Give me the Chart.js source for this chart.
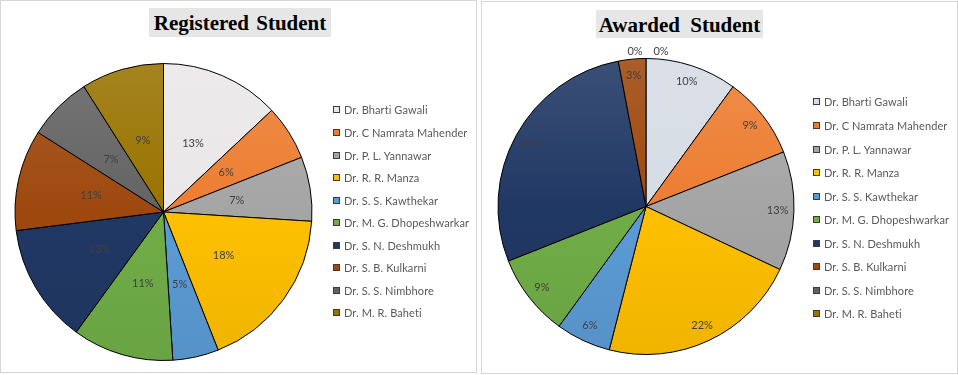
<!DOCTYPE html>
<html><head><meta charset="utf-8">
<script src="https://cdn.jsdelivr.net/npm/chart.js@4"></script>
<style>
body{margin:0;width:958px;height:375px;background:#fff;position:relative;overflow:hidden;font-family:Lato,"Open Sans",sans-serif}
.panel{position:absolute;box-sizing:border-box;border:1px solid #d6d6d6;background:#fff}
.title{position:absolute;background:#e7e6e6;font-family:"Liberation Serif","Times New Roman",serif;font-weight:bold;font-size:21px;color:#000;text-align:center;white-space:nowrap}
.legend{position:absolute;margin:0;padding:0;list-style:none;font-size:11px;letter-spacing:0.1px;color:#595959}
.legend li{display:flex;align-items:center;white-space:nowrap}
.legend i{display:inline-block;box-sizing:border-box;width:7px;height:7px;border:1px solid #3a3a3a;margin-right:4px}
canvas{position:absolute}
</style>
</head><body>
<div class="panel" style="left:0;top:0;width:477px;height:373px"></div>
<div class="panel" style="left:481px;top:1px;width:477px;height:373px"></div>
<canvas id="c1" width="477" height="373" style="left:0;top:0"></canvas>
<canvas id="c2" width="477" height="372" style="left:481px;top:2px"></canvas>
<div class="title" id="t1" style="left:149px;top:8px;width:182px;height:29px;line-height:30px;word-spacing:2px"></div>
<div class="title" id="t2" style="left:596px;top:10px;width:167px;height:28px;line-height:30px;word-spacing:5px"></div>
<ul class="legend" id="l1" style="left:333px;top:98.7px"></ul>
<ul class="legend" id="l2" style="left:813px;top:90.2px"></ul>
<script>
const titles = ["Registered Student", "Awarded Student"];
const categories = [
  "Dr. Bharti Gawali", "Dr. C Namrata Mahender", "Dr. P. L. Yannawar", "Dr. R. R. Manza",
  "Dr. S. S. Kawthekar", "Dr. M. G. Dhopeshwarkar", "Dr. S. N. Deshmukh", "Dr. S. B. Kulkarni",
  "Dr. S. S. Nimbhore", "Dr. M. R. Baheti"
];
const registeredValues = [13, 6, 7, 18, 5, 11, 13, 11, 7, 9];
const awardedValues = [10, 9, 13, 22, 6, 9, 28, 3, 0, 0];
const registeredColors = ["#e9e7e7","#ed7d31","#a5a5a5","#ffc000","#5b9bd5","#70ad47","#203864","#9e480e","#636363","#997300"];
const awardedColors = ["#d6dce5","#ed7d31","#a5a5a5","#ffc000","#5b9bd5","#70ad47","#203864","#9e480e","#636363","#997300"];

function mix(hex, amt){
  const n = parseInt(hex.slice(1),16);
  let r=(n>>16)&255, g=(n>>8)&255, b=n&255;
  const t = amt>0?255:0, a=Math.abs(amt);
  r=Math.round(r+(t-r)*a); g=Math.round(g+(t-g)*a); b=Math.round(b+(t-b)*a);
  return "rgb("+r+","+g+","+b+")";
}

function buildLegend(id, colors, rowH){
  const ul = document.getElementById(id);
  categories.forEach((c,i)=>{
    const li = document.createElement("li");
    li.style.height = rowH+"px";
    const sw = document.createElement("i");
    sw.style.background = colors[i];
    li.appendChild(sw);
    li.appendChild(document.createTextNode(c));
    ul.appendChild(li);
  });
}

const pieLabels = {
  id: "pieLabels",
  afterDatasetsDraw(chart, args, opts){
    const ctx = chart.ctx;
    const meta = chart.getDatasetMeta(0);
    const data = chart.data.datasets[0].data;
    const total = data.reduce((a,b)=>a+b,0);
    const zeros = data.map((v,i)=>v===0?i:-1).filter(i=>i>=0);
    ctx.save();
    ctx.font = opts.font;
    ctx.fillStyle = opts.color;
    ctx.textAlign = "center";
    ctx.textBaseline = "middle";
    meta.data.forEach((arc,i)=>{
      const p = arc.getProps(["x","y","startAngle","endAngle","outerRadius"], true);
      const mid = (p.startAngle+p.endAngle)/2;
      const v = data[i];
      const txt = Math.round(v/total*100)+"%";
      let r, dx=0;
      if (v===0){
        r = p.outerRadius + opts.outsideGap;
        const k = zeros.indexOf(i);
        dx = (k-(zeros.length-1)/2)*opts.zeroSpread + opts.zeroShift;
      } else r = p.outerRadius*opts.radius;
      ctx.fillText(txt, p.x+Math.cos(mid)*r+dx, p.y+Math.sin(mid)*r);
    });
    ctx.restore();
  }
};

function makePie(id, values, colors, padding, labelRadius){
  new Chart(document.getElementById(id), {
    type: "pie",
    data: {
      labels: categories,
      datasets: [{
        data: values,
        backgroundColor: (c)=>{
          const base = colors[c.dataIndex];
          const area = c.chart.chartArea;
          if(!area) return base;
          const g = c.chart.ctx.createLinearGradient(0, area.top, 0, area.bottom);
          g.addColorStop(0, mix(base, 0.12));
          g.addColorStop(0.5, base);
          g.addColorStop(1, mix(base, -0.06));
          return g;
        },
        borderColor: "#000",
        borderWidth: 1
      }]
    },
    options: {
      responsive: false,
      animation: false,
      devicePixelRatio: 1,
      events: [],
      layout: { padding: padding },
      plugins: {
        legend: { display: false },
        tooltip: { enabled: false },
        pieLabels: { radius: labelRadius, font: "11px Lato", color: "#404040", outsideGap: 7, zeroSpread: 26, zeroShift: 2 }
      }
    },
    plugins: [pieLabels]
  });
}

document.getElementById("t1").textContent = titles[0];
document.getElementById("t2").textContent = titles[1];
buildLegend("l1", registeredColors, 22.55);
buildLegend("l2", awardedColors, 23.55);
makePie("c1", registeredValues, registeredColors, {left:14, top:63, right:164, bottom:12}, 0.5);
makePie("c2", awardedValues, awardedColors, {left:16, top:56, right:163, bottom:19}, 0.89);
</script>
</body></html>
